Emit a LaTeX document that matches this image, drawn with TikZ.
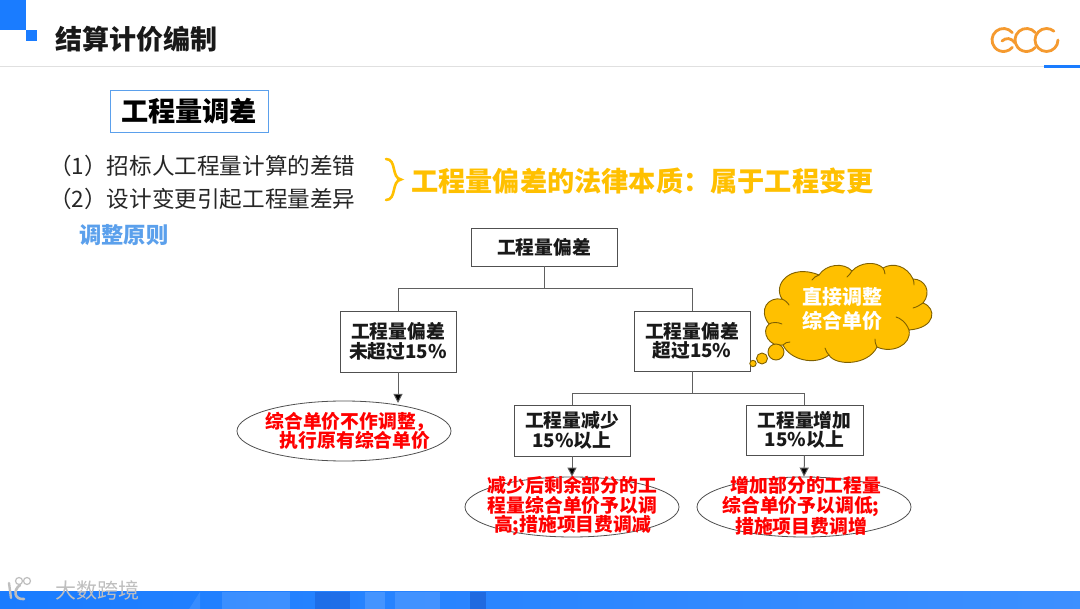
\documentclass[tikz,border=0pt]{standalone}
\usepackage{fontspec}
\setmainfont{Noto Sans CJK SC}
\usetikzlibrary{shapes.geometric,arrows.meta,calc}
\definecolor{bluemain}{HTML}{1A7CFF}
\definecolor{boxline}{HTML}{505050}
\definecolor{linkline}{HTML}{606060}
\definecolor{orangehead}{HTML}{FFC000}
\definecolor{cloudline}{HTML}{7F6000}
\definecolor{logoorange}{HTML}{F59A2F}
\definecolor{ruleblue}{HTML}{5BA0EC}
\tikzset{
  x=1pt,y=-1pt,
  flowbox/.style={draw=boxline,line width=0.9pt,fill=white,inner sep=0pt,align=center,font=\fontsize{18.8}{19.5}\selectfont\bfseries,text=black!90},
  oval/.style={ellipse,draw=boxline,line width=0.8pt,fill=white,inner sep=0pt},
  redtext/.style={inner sep=0pt,align=center,text=red,font=\fontsize{18.8}{19.5}\selectfont\bfseries},
  link/.style={draw=linkline,line width=1pt},
  arrowlink/.style={link,-{Triangle[length=9pt,width=9pt,fill=black]}},
  listtext/.style={inner sep=0pt,anchor=west,font=\fontsize{22.6}{24}\selectfont,text=black!85},
  logoarc/.style={draw=logoorange,line width=2.8pt,line cap=round},
  cloudpart/.style={draw=cloudline,fill=orangehead,line width=0.9pt},
  cloudcurl/.style={draw=cloudline,line width=0.9pt,line cap=round},
}
\begin{document}
\begin{tikzpicture}
\useasboundingbox (0,0) rectangle (1080,609);
\fill[white] (0,0) rectangle (1080,609);
% header
\fill[bluemain] (0,0) rectangle (26,30);
\fill[bluemain] (26,30) rectangle (37,41);
\draw[black!12,line width=0.8pt] (0,66.5) -- (1044,66.5);
\fill[bluemain] (1044,65) rectangle (1080,68);
\node[inner sep=0pt,anchor=west,font=\fontsize{27}{28}\selectfont\bfseries,text=black!90] (title) at (55,39) {结算计价编制};
% logo
\draw[logoarc] (1003.5,40) ++(-40:11.5) arc[start angle=-40,end angle=-320,radius=11.5];
\draw[logoarc] (1002,41) .. controls (1006,37.5) and (1011,37.5) .. (1015,43);
\draw[logoarc] (1026.5,40) ++(-40:11.5) arc[start angle=-40,end angle=-320,radius=11.5];
\draw[logoarc] (1046.5,40) ++(0:11.5) arc[start angle=0,end angle=310,radius=11.5];
% bottom bar
\shade[left color=bluemain,right color=bluemain!85!white] (0,592) rectangle (1080,609);
\fill[white,opacity=.1] (140,609) arc[start angle=180,end angle=90,radius=30] -- (200,592) -- (200,609) -- cycle;
\fill[white,opacity=.12] (222,592) rectangle (290,609);
\fill[black!60!blue,opacity=.15] (315,592) rectangle (350,609);
\fill[white,opacity=.14] (365,592) rectangle (385,609);
\fill[white,opacity=.12] (395,592) rectangle (440,609);
\fill[black!60!blue,opacity=.2] (470,592) rectangle (486,609);
% watermark
\node[inner sep=0pt,anchor=west,font=\fontsize{21}{22}\selectfont,text=black!25] (mark) at (55,590) {大数跨境};
\draw[black!25,line width=2.4pt,line cap=round] (9,583) -- (11,598);
\draw[black!25,line width=2.6pt,line cap=round] (20,585) .. controls (13,590) and (14,600) .. (24,599);
\draw[black!25,line width=1.2pt] (19,581) circle[radius=3.5];
\draw[black!25,line width=1.2pt] (27,581) circle[radius=3.5];
% top text
\node[draw=ruleblue,line width=0.9pt,inner sep=0pt,minimum width=158pt,minimum height=42pt,font=\fontsize{27.2}{28}\selectfont\bfseries,text=black] (adj) at (189,111) {工程量调差};
\node[listtext] (l1) at (49,166) {（1）招标人工程量计算的差错};
\node[listtext] (l2) at (49,199) {（2）设计变更引起工程量差异};
\node[inner sep=0pt,anchor=west,font=\fontsize{22.3}{24}\selectfont\bfseries,text=ruleblue] (rule) at (79,235) {调整原则};
\draw[orangehead,line width=2.6pt,line cap=round] (386,159) .. controls (397,159) and (391,178) .. (401,179.5) .. controls (391,181) and (397,200) .. (386,200);
\node[inner sep=0pt,anchor=west,font=\fontsize{27.2}{29}\selectfont\bfseries,text=orangehead] (law) at (411,181) {工程量偏差的法律本质：属于工程变更};
% boxes
\node[flowbox,minimum width=146pt,minimum height=38pt] (top) at (544,247) {工程量偏差};
\node[flowbox,minimum width=116pt,minimum height=61pt] (lbox) at (398,341.5) {工程量偏差\\未超过15\%};
\node[flowbox,minimum width=116pt,minimum height=60pt] (rbox) at (692,341) {工程量偏差\\超过15\%};
\node[flowbox,minimum width=116pt,minimum height=51pt] (dbox) at (572,430.5) {工程量减少\\15\%以上};
\node[flowbox,minimum width=117pt,minimum height=50pt] (ibox) at (804.5,430) {工程量增加\\15\%以上};
% ovals
\node[oval,minimum width=214pt,minimum height=60pt] (e1) at (344,431) {};
\node[oval,minimum width=214pt,minimum height=60pt] (e2) at (572,507) {};
\node[oval,minimum width=214pt,minimum height=60pt] (e3) at (804,507) {};
\node[redtext] (t1) at (350,431) {综合单价不作调整，\\\hspace*{10pt}执行原有综合单价};
\node[redtext] (t2) at (572.5,506) {减少后剩余部分的工\\程量综合单价予以调\\高;措施项目费调减};
\node[redtext] (t3) at (801,506) {\hspace*{10pt}增加部分的工程量\\综合单价予以调低;\\措施项目费调增};
% connectors
\coordinate (bus1) at (544,289);
\coordinate (bus2) at (692,394);
\coordinate (tip1) at (398,403);
\draw[link] (top.south) -- (bus1) -| (lbox.north);
\draw[link] (bus1) -| (rbox.north);
\draw[link] (rbox.south) -- (bus2) -| (dbox.north);
\draw[link] (bus2) -| (ibox.north);
\draw[arrowlink] (lbox.south) -- (tip1);
\draw[arrowlink] (dbox.south) -- (e2.north);
\draw[arrowlink] (ibox.south) -- (e3.north);
% cloud
\draw[cloudpart,line join=round]
 (782.3,299.3) .. controls (772,285) and (790,263) .. (819,275)
 .. controls (826,264) and (844,262) .. (852,271)
 .. controls (860,262) and (876,261) .. (883,268)
 .. controls (893,262) and (907,266) .. (913,279)
 .. controls (925,279) and (932,292) .. (923,303)
 .. controls (937,308) and (936,328) .. (909,330)
 .. controls (912,345) and (892,354) .. (877,347)
 .. controls (868,366) and (835,366) .. (829,355)
 .. controls (815,366) and (790,360) .. (783,345)
 .. controls (770,348) and (760,332) .. (769,324)
 .. controls (758,310) and (768,296) .. (782.3,299.3) -- cycle;
\draw[cloudcurl] (769,324) .. controls (772,322) and (778,322) .. (782,324);
\draw[cloudcurl] (782.3,299.3) .. controls (785,300) and (788,303) .. (789,305);
\draw[cloudcurl] (819,275) .. controls (816,276) and (813,278) .. (812,280);
\draw[cloudcurl] (852,271) .. controls (851,273) and (849,275) .. (847,277);
\draw[cloudcurl] (883,268) .. controls (884,270) and (885,272) .. (885,274);
\draw[cloudcurl] (913,279) .. controls (914,281) and (914,283) .. (914,285);
\draw[cloudcurl] (923,303) .. controls (920,305) and (917,307) .. (913,308);
\draw[cloudcurl] (909,330) .. controls (906,322) and (900,318) .. (896,317);
\draw[cloudcurl] (877,347) .. controls (875,343) and (875,341) .. (875,339);
\draw[cloudcurl] (829,355) .. controls (827,353) and (826,351) .. (825,348);
\draw[cloudcurl] (783,345) .. controls (785,343) and (787,342) .. (790,342);
\filldraw[cloudpart] (776,352) circle[radius=8];
\filldraw[cloudpart] (762,358.5) circle[radius=5.5];
\filldraw[cloudpart] (753,363.5) circle[radius=3.2];
\node[inner sep=0pt,align=center,text=white,font=\fontsize{20}{24}\selectfont\bfseries] (cloudtext) at (842,308.5) {直接调整\\综合单价};
\end{tikzpicture}
\end{document}
